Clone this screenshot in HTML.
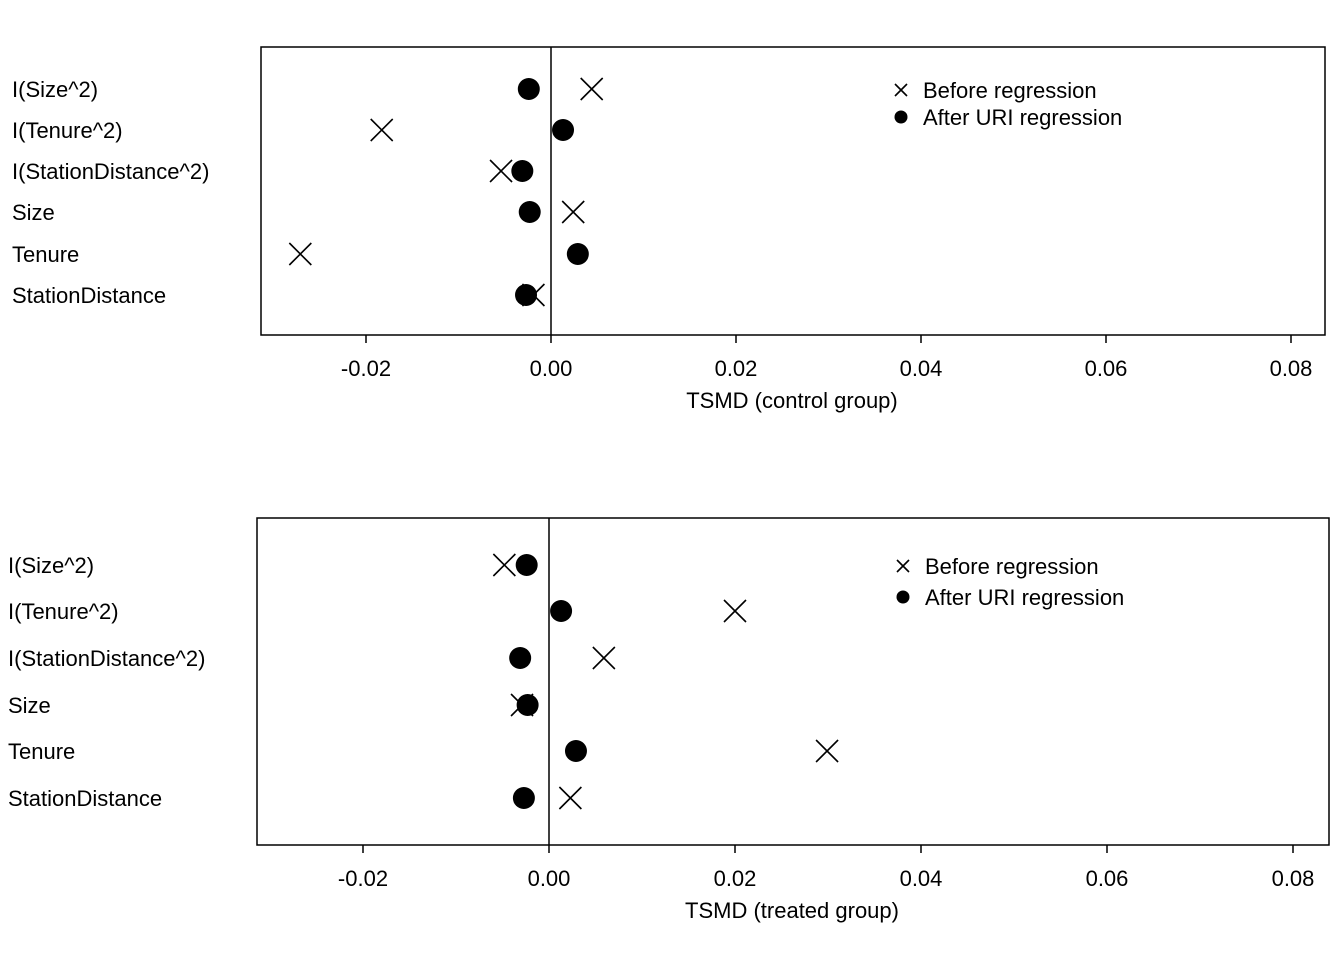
<!DOCTYPE html>
<html><head><meta charset="utf-8"><style>
body{margin:0;background:#fff}
svg{display:block;font-family:"Liberation Sans",Arial,sans-serif}
</style></head><body>
<svg id="chart" width="1344" height="960" xmlns="http://www.w3.org/2000/svg"></svg>
<script>
const variables = ["I(Size^2)","I(Tenure^2)","I(StationDistance^2)","Size","Tenure","StationDistance"];
const tickValues = [-0.02,0,0.02,0.04,0.06,0.08];
const tickLabels = ["-0.02","0.00","0.02","0.04","0.06","0.08"];
const controlBefore = [0.0044,-0.0183,-0.0054,0.0024,-0.0271,-0.0019];
const controlAfter = [-0.0024,0.0013,-0.0031,-0.0023,0.0029,-0.0027];
const treatedBefore = [-0.0048,0.0200,0.0059,-0.0029,0.0299,0.0023];
const treatedAfter = [-0.0024,0.0013,-0.0031,-0.0023,0.0029,-0.0027];

const NS="http://www.w3.org/2000/svg";
const svg=document.getElementById("chart");
function mk(tag,attrs,parent){const e=document.createElementNS(NS,tag);for(const k in attrs)e.setAttribute(k,attrs[k]);(parent||svg).appendChild(e);return e;}

function panel(cfg){
  const g=mk("g",{});
  
  
  const x=v=>cfg.x0+(v-0)*cfg.scale;
  const y=i=>cfg.rowY[i];
  const box=mk("rect",{x:cfg.left,y:cfg.top,width:cfg.right-cfg.left,height:cfg.bottom-cfg.top,fill:"none",stroke:"#000","stroke-width":1.5},g);
  
  
  const zl=mk("line",{x1:x(0),x2:x(0),y1:cfg.top,y2:cfg.bottom,stroke:"#000","stroke-width":1.5},g);
  
  
  tickValues.forEach((v,i)=>{
    const t=mk("line",{x1:x(v),x2:x(v),y1:cfg.bottom,y2:cfg.bottom+8,stroke:"#000","stroke-width":1.5},g);
    
    
    const l=mk("text",{x:x(v),y:cfg.bottom+41,"text-anchor":"middle","font-size":22},g);
    l.textContent=tickLabels[i];
    
    
  });
  const xt=mk("text",{x:cfg.titleX,y:cfg.bottom+73,"text-anchor":"middle","font-size":22},g);
  xt.textContent=cfg.title;
  
  
  variables.forEach((name,i)=>{
    const t=mk("text",{x:cfg.labelX,y:y(i)+8,"font-size":22},g);
    t.textContent=name;
    
    
  });
  const s=11;
  cfg.before.forEach((v,i)=>{
    const cx=x(v),cy=y(i);
    const p=mk("path",{d:`M${cx-s},${cy-s}L${cx+s},${cy+s}M${cx-s},${cy+s}L${cx+s},${cy-s}`,stroke:"#000","stroke-width":1.6,fill:"none"},g);
    
    
  });
  cfg.after.forEach((v,i)=>{
    const c=mk("circle",{cx:x(v),cy:y(i),r:11,fill:"#000"},g);
    
    
  });
  const lg=mk("g",{},g);
  
  
  const [lx,ly1,ly2]=cfg.legend;
  mk("path",{d:`M${lx-6},${ly1-6}L${lx+6},${ly1+6}M${lx-6},${ly1+6}L${lx+6},${ly1-6}`,stroke:"#000","stroke-width":1.6},lg);
  const a=mk("text",{x:lx+22,y:ly1+8,"font-size":22},lg);a.textContent="Before regression";
  
  
  mk("circle",{cx:lx,cy:ly2,r:6.5,fill:"#000"},lg);
  const b=mk("text",{x:lx+22,y:ly2+8,"font-size":22},lg);b.textContent="After URI regression";
  
  
}
panel({name:"control-panel",left:261,right:1325,top:47,bottom:335,x0:551,scale:9250,
  rowY:[89,130,171,212,254,295],labelX:12,title:"TSMD (control group)",titleX:792,
  before:controlBefore,after:controlAfter,legend:[901,90,117]});
panel({name:"treated-panel",left:257,right:1329,top:518,bottom:845,x0:549,scale:9300,
  rowY:[565,611,658,705,751,798],labelX:8,title:"TSMD (treated group)",titleX:792,
  before:treatedBefore,after:treatedAfter,legend:[903,566,597]});
</script>
</body></html>
